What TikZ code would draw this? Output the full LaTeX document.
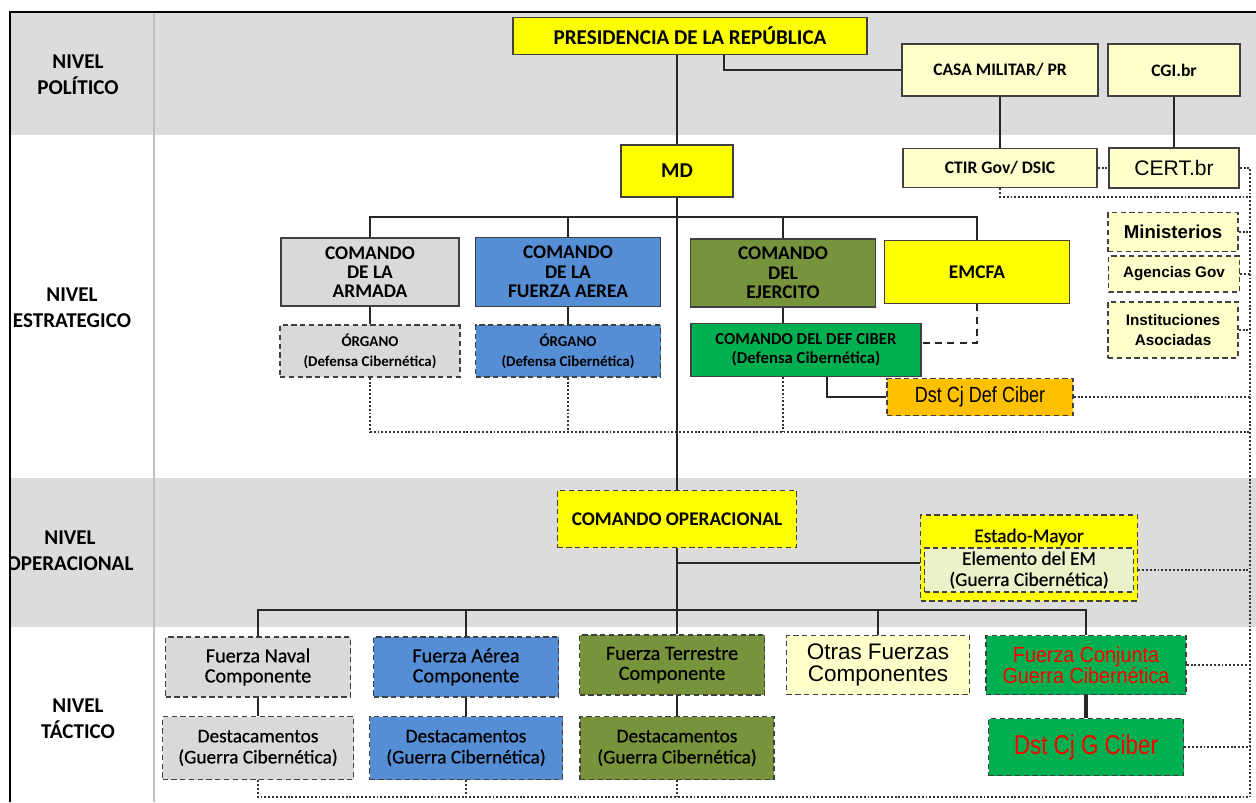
\documentclass[tikz,border=0pt]{standalone}
\usepackage{fontspec}
\setmainfont{Carlito}
\newfontfamily\medfont[FakeBold=0.5]{Carlito}
\newfontfamily\arialfont{Liberation Sans}
\newfontfamily\narrowfont[FakeStretch=0.82]{Liberation Sans}
\newfontfamily\semifont[FakeStretch=0.9]{Liberation Sans}

\definecolor{bandgray}{HTML}{DCDCDC}
\definecolor{boxgray}{HTML}{D9D9D9}
\definecolor{yel}{HTML}{FFFF00}
\definecolor{lyel}{HTML}{FFFFCC}
\definecolor{blu}{HTML}{558ED5}
\definecolor{oliv}{HTML}{77933C}
\definecolor{grn}{HTML}{00B050}
\definecolor{orng}{HTML}{FFC000}
\definecolor{palegrn}{HTML}{EBF1C8}
\definecolor{redtxt}{HTML}{FF0000}

\begin{document}
\begin{tikzpicture}[x=0.2mm, y=-0.2mm,
  box/.style={draw=black!75, line width=0.8pt, align=center, inner sep=0.5pt},
  dbox/.style={box, dash pattern=on 3pt off 2pt},
  link/.style={draw=black!85, line width=1.3pt},
  dotlink/.style={draw=black!80, line width=1.4pt, dash pattern=on 1.1pt off 1.1pt},
  lvl/.style={align=center, font=\bfseries\fontsize{12}{14.8}\selectfont},
  capB/.style={font=\bfseries\fontsize{#1}{#1}\selectfont},
  txt/.style={font=\medfont\fontsize{#1}{#1}\selectfont}
]
\useasboundingbox (0,0) rectangle (1256,802);

% Bands
\fill[bandgray] (10,12) rectangle (1256,135);
\fill[bandgray] (10,478) rectangle (1256,627);
\draw[black!25, line width=0.6pt] (154,12) -- (154,802);

% Level names
\begin{scope}
  \clip (10,0) rectangle (154,802);
  \node[lvl] (lpol) at (78,75) {NIVEL\\POLÍTICO};
  \node[lvl] (lest) at (72,308) {NIVEL\\ESTRATEGICO};
  \node[lvl] (lope) at (70,551) {NIVEL\\OPERACIONAL};
  \node[lvl] (ltac) at (78,719) {NIVEL\\TÁCTICO};
\end{scope}
\draw[line width=1.4pt] (10,802) -- (10,12) -- (1256,12);

% Politico
\node[box, fill=yel, minimum width=70.8mm, minimum height=7.4mm, capB=12] (pres) at (690,36) {PRESIDENCIA DE LA REPÚBLICA};
\node[box, fill=lyel, minimum width=39.2mm, minimum height=10.4mm, capB=10] (casa) at (1000,70) {CASA MILITAR/ PR};
\node[box, fill=lyel, minimum width=26.4mm, minimum height=10.4mm, capB=10] (cgi) at (1174,70) {CGI.br};

% Estrategico
\node[box, fill=yel, minimum width=22.4mm, minimum height=10.4mm, capB=12] (md) at (677,171) {MD};
\node[box, fill=lyel, minimum width=38.8mm, minimum height=7.8mm, capB=10] (ctir) at (1000,168) {CTIR Gov/ DSIC};
\node[box, fill=lyel, minimum width=26mm, minimum height=8mm, font=\arialfont\fontsize{12}{14}\selectfont] (cert) at (1174,168) {CERT.br};
\node[box, fill=boxgray, minimum width=35.6mm, minimum height=13.6mm, capB=11] (armada) at (370,272) {COMANDO\\DE LA\\ARMADA};
\node[box, fill=blu, minimum width=37mm, minimum height=13.8mm, capB=11] (aerea) at (568,272) {COMANDO\\DE LA\\FUERZA AEREA};
\node[box, fill=oliv, minimum width=37mm, minimum height=13.6mm, capB=11] (ejercito) at (783,273) {COMANDO\\DEL\\EJERCITO};
\node[box, fill=yel, minimum width=37mm, minimum height=12.6mm, capB=11] (emcfa) at (977,272) {EMCFA};
\node[dbox, fill=boxgray, minimum width=36mm, minimum height=10.4mm, font=\bfseries\fontsize{8.5}{11.4}\selectfont] (organoA) at (370,351) {ÓRGANO\\(Defensa Cibernética)};
\node[dbox, fill=blu, minimum width=37mm, minimum height=10.4mm, font=\bfseries\fontsize{8.5}{11.4}\selectfont] (organoB) at (568,351) {ÓRGANO\\(Defensa Cibernética)};
\node[box, fill=grn, minimum width=46mm, minimum height=10.6mm, font=\bfseries\fontsize{9.5}{10.8}\selectfont] (defciber) at (806,350) {COMANDO DEL DEF CIBER\\(Defensa Cibernética)};
\node[dbox, fill=orng, minimum width=37.2mm, minimum height=7.4mm, font=\narrowfont\fontsize{12.5}{15}\selectfont] (dstdef) at (980,397) {Dst Cj Def Ciber};
\node[dbox, fill=lyel, minimum width=26mm, minimum height=7.8mm, font=\arialfont\bfseries\fontsize{10.6}{12}\selectfont] (minis) at (1173,232) {Ministerios};
\node[dbox, fill=lyel, minimum width=26.2mm, minimum height=7.2mm, font=\arialfont\bfseries\fontsize{8.7}{10}\selectfont] (agencias) at (1174,274) {Agencias Gov};
\node[dbox, fill=lyel, minimum width=26mm, minimum height=11.2mm, font=\arialfont\bfseries\fontsize{8.7}{11.4}\selectfont] (instit) at (1173,330) {Instituciones\\Asociadas};

% Operacional
\node[dbox, fill=yel, minimum width=47.8mm, minimum height=11.4mm, capB=11] (comop) at (677,519) {COMANDO OPERACIONAL};
\node[dbox, fill=yel, minimum width=43.4mm, minimum height=17.2mm] (em) at (1029,558) {};
\node[txt=11] (emtitle) at (1029,537) {Estado-Mayor};
\node[dbox, fill=palegrn, minimum width=41.8mm, minimum height=8.8mm, inner sep=0pt, font=\medfont\fontsize{11}{12}\selectfont] (elemento) at (1029,570) {Elemento del EM\\(Guerra Cibernética)};

% Tactico
\node[dbox, fill=boxgray, minimum width=37mm, minimum height=12mm, font=\medfont\fontsize{11.5}{11.4}\selectfont] (naval) at (258,667) {Fuerza Naval\\Componente};
\node[dbox, fill=blu, minimum width=37mm, minimum height=12mm, font=\medfont\fontsize{11.5}{11.4}\selectfont] (faerea) at (466,667) {Fuerza Aérea\\Componente};
\node[dbox, fill=oliv, minimum width=37mm, minimum height=12mm, font=\medfont\fontsize{11.5}{11.4}\selectfont] (terrestre) at (672,665) {Fuerza Terrestre\\Componente};
\node[dbox, fill=lyel, minimum width=36.6mm, minimum height=11.8mm, font=\arialfont\fontsize{12.8}{13}\selectfont] (otras) at (878,665) {Otras Fuerzas\\Componentes};
\node[dbox, fill=grn, text=redtxt, minimum width=40mm, minimum height=11.8mm, font=\semifont\fontsize{12.5}{12}\selectfont] (conjunta) at (1086,665) {Fuerza Conjunta\\Guerra Cibernética};
\node[dbox, fill=boxgray, minimum width=38.2mm, minimum height=12.6mm, font=\medfont\fontsize{11}{12}\selectfont] (destA) at (258,748) {Destacamentos\\(Guerra Cibernética)};
\node[dbox, fill=blu, minimum width=38.6mm, minimum height=12.6mm, font=\medfont\fontsize{11}{12}\selectfont] (destB) at (466,748) {Destacamentos\\(Guerra Cibernética)};
\node[dbox, fill=oliv, minimum width=38.8mm, minimum height=12.6mm, font=\medfont\fontsize{11}{12}\selectfont] (destC) at (677,748) {Destacamentos\\(Guerra Cibernética)};
\node[dbox, fill=grn, text=redtxt, minimum width=39mm, minimum height=11.4mm, font=\narrowfont\fontsize{15.5}{17}\selectfont] (dstg) at (1086,747) {Dst Cj G Ciber};

% Bus points
\coordinate (sbus) at (677,217);
\coordinate (tbus) at (677,610);
\coordinate (emlink) at (677,563);
\coordinate (srow) at (1250,432);
\coordinate (crow) at (1250,197);
\coordinate (rbot) at (1250,797);

% Command lines
\draw[link] (md.north |- pres.south) -- (md.north);
\draw[link] ([xshift=6.8mm]pres.south) |- (casa.west);
\draw[link] (casa.south) -- (ctir.north);
\draw[link] (cgi.south) -- (cert.north);
\draw[link] (md.south) -- (comop.north);
\draw[link] (comop.south) -- (comop.south |- terrestre.north);
\draw[link] (armada.north) -- (armada.north |- sbus) -- (emcfa.north |- sbus) -- (emcfa.north);
\draw[link] (aerea.north) -- (aerea.north |- sbus);
\draw[link] (ejercito.north) -- (ejercito.north |- sbus);
\draw[link] (armada) -- (organoA);
\draw[link] (aerea) -- (organoB);
\draw[link] (ejercito.south) -- (ejercito.south |- defciber.north);
\draw[link] ([xshift=4.2mm]defciber.south) |- (dstdef.west);
\draw[link, dash pattern=on 4pt off 3pt] (emcfa.south) |- ([yshift=1.4mm]defciber.east);
\draw[link] (emlink) -- (emlink -| em.west);
\draw[link] (naval.north) -- (naval.north |- tbus) -- (conjunta.north |- tbus) -- (conjunta.north);
\draw[link] (faerea.north) -- (faerea.north |- tbus);
\draw[link] (otras.north) -- (otras.north |- tbus);
\draw[link] (naval) -- (destA);
\draw[link] (faerea) -- (destB);
\draw[link] (destC.north |- terrestre.south) -- (destC.north);
\draw[link, line width=1.8pt] (conjunta) -- (dstg);

% Cyber coordination (dotted)
\draw[dotlink] (cert.east) -| (rbot);
\draw[dotlink] (ctir.east) -- (cert.west);
\draw[dotlink] (ctir.south) |- (crow);
\draw[dotlink] (minis.east) -- (minis.east -| rbot);
\draw[dotlink] (agencias.east) -- (agencias.east -| rbot);
\draw[dotlink] (instit.east) -- (instit.east -| rbot);
\draw[dotlink] (organoA.south) |- (srow);
\draw[dotlink] (organoB.south) -- (organoB.south |- srow);
\draw[dotlink] (ejercito.south |- defciber.south) -- (ejercito.south |- srow);
\draw[dotlink] (dstdef.east) -- (dstdef.east -| rbot);
\draw[dotlink] (elemento.east -| em.east) -- (elemento.east -| rbot);
\draw[dotlink] (conjunta.east) -- (conjunta.east -| rbot);
\draw[dotlink] (dstg.east) -- (dstg.east -| rbot);
\draw[dotlink] (destA.south) |- (rbot);
\draw[dotlink] (destB.south) -- (destB.south |- rbot);
\draw[dotlink] (destC.south) -- (destC.south |- rbot);

\end{tikzpicture}
\end{document}
